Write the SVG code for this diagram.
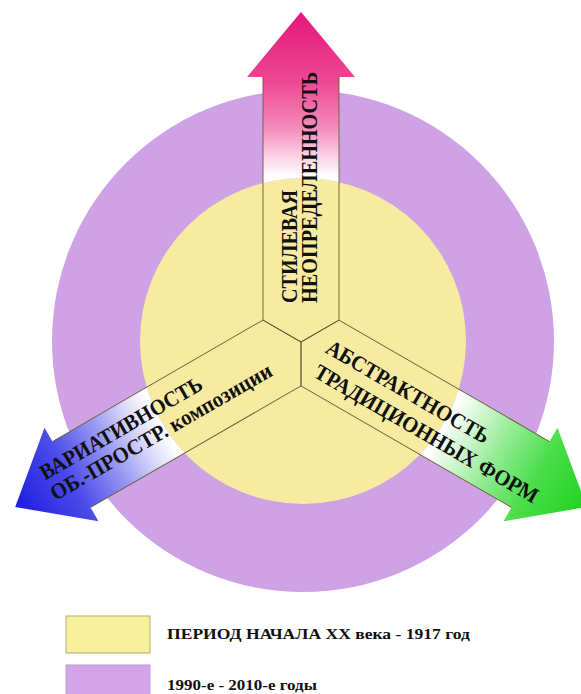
<svg xmlns="http://www.w3.org/2000/svg" width="581" height="694" viewBox="0 0 581 694">
  <style>
    .t { font-family: "Liberation Serif", "Times New Roman", serif; font-weight: bold; fill: #111; }
    .ol { fill: none; stroke: #6a5f34; stroke-width: 0.9; stroke-linejoin: round; }
  </style>
  <defs>
    <path id="arrowShape" d="M0,0 L21.9,-38 L265,-38 L265,-54 L330,0 L265,54 L265,38 L21.9,38 Z"/>
    <path id="arrowOutline" d="M265,-38 L21.9,-38 L0,0 L21.9,38 L265,38"/>
    <linearGradient id="gPink" gradientUnits="userSpaceOnUse" x1="0" y1="0" x2="330" y2="0">
      <stop offset="0" stop-color="#ffffff"/>
      <stop offset="0.5" stop-color="#ffffff"/>
      <stop offset="0.56" stop-color="#fbd3e6"/>
      <stop offset="0.65" stop-color="#f48abb"/>
      <stop offset="0.79" stop-color="#ec4894"/>
      <stop offset="1" stop-color="#e6167a"/>
    </linearGradient>
    <linearGradient id="gBlue" gradientUnits="userSpaceOnUse" x1="0" y1="0" x2="330" y2="0">
      <stop offset="0" stop-color="#ffffff"/>
      <stop offset="0.49" stop-color="#ffffff"/>
      <stop offset="0.57" stop-color="#d6d6fa"/>
      <stop offset="0.67" stop-color="#9898f2"/>
      <stop offset="0.81" stop-color="#4c4cea"/>
      <stop offset="1" stop-color="#1c1ce2"/>
    </linearGradient>
    <linearGradient id="gGreen" gradientUnits="userSpaceOnUse" x1="0" y1="0" x2="330" y2="0">
      <stop offset="0" stop-color="#ffffff"/>
      <stop offset="0.5" stop-color="#ffffff"/>
      <stop offset="0.58" stop-color="#d2f7d2"/>
      <stop offset="0.68" stop-color="#96ec96"/>
      <stop offset="0.82" stop-color="#4cde4c"/>
      <stop offset="1" stop-color="#1ed21e"/>
    </linearGradient>
    <mask id="outY" maskUnits="userSpaceOnUse" x="0" y="0" width="581" height="694">
      <rect x="0" y="0" width="581" height="694" fill="#fff"/>
      <circle cx="303" cy="341" r="163" fill="#000"/>
    </mask>
  </defs>

  <rect x="0" y="0" width="581" height="694" fill="#ffffff"/>

  <g id="rings">
    <circle id="ring-1990" cx="303" cy="341" r="251" fill="#cfa2e5"/>
    <circle id="ring-1917" cx="303" cy="341" r="163" fill="#f7eba2"/>
  </g>

  <g id="connectors">
    <g id="arrow-up">
      <g mask="url(#outY)"><use href="#arrowShape" transform="translate(301 342) rotate(-90)" fill="url(#gPink)"/></g>
      <use href="#arrowOutline" class="ol" transform="translate(301 342) rotate(-90)"/>
      <g transform="translate(301 342) rotate(-90)">
        <text class="t" x="39" y="-4" font-size="24" textLength="113" lengthAdjust="spacingAndGlyphs">СТИЛЕВАЯ</text>
        <text class="t" x="39" y="16" font-size="24" textLength="231" lengthAdjust="spacingAndGlyphs">НЕОПРЕДЕЛЕННОСТЬ</text>
      </g>
    </g>
    <g id="arrow-left">
      <g mask="url(#outY)"><use href="#arrowShape" transform="translate(301 342) rotate(150)" fill="url(#gBlue)"/></g>
      <use href="#arrowOutline" class="ol" transform="translate(301 342) rotate(150)"/>
      <g transform="translate(301 342) rotate(-30)">
        <text class="t" x="-291" y="-8" font-size="22" textLength="184" lengthAdjust="spacingAndGlyphs">ВАРИАТИВНОСТЬ</text>
        <text class="t" x="-292" y="15" font-size="22" textLength="252" lengthAdjust="spacingAndGlyphs">ОБ.-ПРОСТР. композиции</text>
      </g>
    </g>
    <g id="arrow-right">
      <g mask="url(#outY)"><use href="#arrowShape" transform="translate(301 342) rotate(30)" fill="url(#gGreen)"/></g>
      <use href="#arrowOutline" class="ol" transform="translate(301 342) rotate(30)"/>
      <g transform="translate(301 342) rotate(30)">
        <text class="t" x="25" y="-3" font-size="22" textLength="185" lengthAdjust="spacingAndGlyphs">АБСТРАКТНОСТЬ</text>
        <text class="t" x="27" y="24" font-size="22" textLength="255" lengthAdjust="spacingAndGlyphs">ТРАДИЦИОННЫХ ФОРМ</text>
      </g>
    </g>
  </g>

  <g id="legend">
    <g id="legend-1917">
      <rect x="66" y="616" width="84" height="37" fill="#f8f09c" stroke="#b8ad70" stroke-width="1"/>
      <text class="t" x="167" y="639" font-size="15" textLength="303" lengthAdjust="spacingAndGlyphs">ПЕРИОД НАЧАЛА XX века - 1917 год</text>
    </g>
    <g id="legend-1990">
      <rect x="66" y="665" width="84" height="36" fill="#d3a5e8" stroke="#c09ad4" stroke-width="1"/>
      <text class="t" x="167" y="690" font-size="15" textLength="150" lengthAdjust="spacingAndGlyphs">1990-е - 2010-е годы</text>
    </g>
  </g>
</svg>
